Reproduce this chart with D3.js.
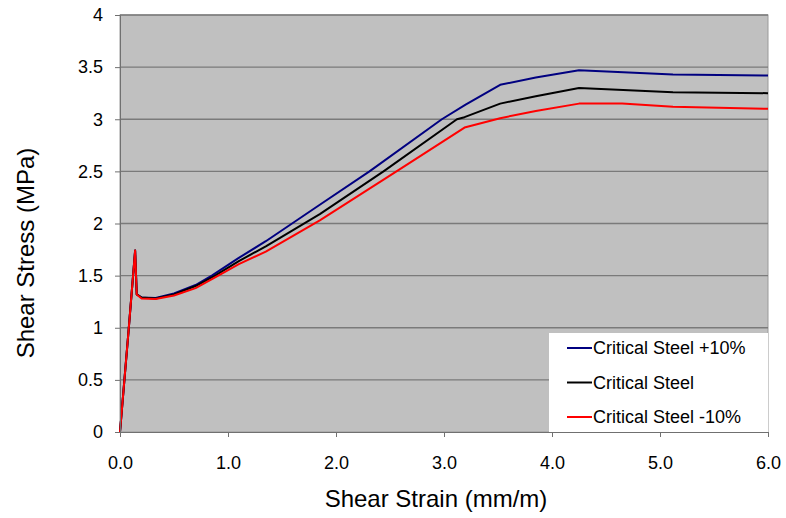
<!DOCTYPE html>
<html>
<head>
<meta charset="utf-8">
<script src="https://cdn.jsdelivr.net/npm/d3@7"></script>
<style>
  body { margin: 0; background: #fff; }
  text { font-family: "Liberation Sans", Arial, sans-serif; }
</style>
</head>
<body>
<svg id="chart"></svg>
<script>
const width = 786, height = 518
const margin = { top: 15, right: 18, bottom: 86, left: 120 }

// strain (mm/m) / stress (MPa) pairs
const plusStrain = [0, 0.08, 0.14, 0.155, 0.2, 0.33, 0.5, 0.7, 0.85, 1.1, 1.35, 1.85, 2.31, 2.98, 3.2, 3.52, 3.85, 4.25, 5.12, 6.0]
const plusStress = [0, 0.98, 1.74, 1.32, 1.29, 1.285, 1.33, 1.41, 1.5, 1.67, 1.83, 2.18, 2.5, 3.0, 3.14, 3.33, 3.4, 3.47, 3.43, 3.42]

const baseStrain = [0, 0.08, 0.14, 0.155, 0.2, 0.33, 0.5, 0.7, 0.88, 1.1, 1.35, 1.85, 2.44, 3.12, 3.19, 3.52, 3.85, 4.25, 5.12, 6.0]
const baseStress = [0, 0.98, 1.74, 1.32, 1.29, 1.28, 1.32, 1.4, 1.5, 1.64, 1.78, 2.09, 2.5, 3.0, 3.02, 3.15, 3.22, 3.3, 3.26, 3.25]

const minusStrain = [0, 0.08, 0.14, 0.155, 0.2, 0.33, 0.5, 0.7, 0.91, 1.1, 1.35, 1.85, 2.56, 3.19, 3.52, 3.85, 4.25, 4.65, 5.12, 6.0]
const minusStress = [0, 0.98, 1.74, 1.32, 1.28, 1.275, 1.31, 1.38, 1.5, 1.61, 1.73, 2.03, 2.5, 2.92, 3.01, 3.08, 3.15, 3.15, 3.12, 3.1]

const seriesNames = ["Critical Steel +10%", "Critical Steel", "Critical Steel -10%"]
const seriesColors = ["#000080", "#000000", "#ff0000"]

const xTicks = [0, 1, 2, 3, 4, 5, 6]
const yTicks = [0, 0.5, 1, 1.5, 2, 2.5, 3, 3.5, 4]

const series = [
    [plusStrain, plusStress],
    [baseStrain, baseStress],
    [minusStrain, minusStress],
].map(([xs, ys], i) => ({
    name: seriesNames[i],
    color: seriesColors[i],
    points: xs.map((x, j) => [x, ys[j]]),
}))

const svg = d3.select("svg#chart")
    .attr("width", width)
    .attr("height", height)

const xScale = d3.scaleLinear()
    .domain([0, 6])
    .range([margin.left, width - margin.right])

const yScale = d3.scaleLinear()
    .domain([0, 4])
    .range([height - margin.bottom, margin.top])

// plot area
svg.append("rect")
    .attr("x", margin.left)
    .attr("y", margin.top)
    .attr("width", xScale(6) - xScale(0))
    .attr("height", yScale(0) - yScale(4))
    .attr("fill", "#c0c0c0")
    .attr("stroke", "#9a9a9a")

// H grid lines
svg.append("g").classed("h-grid", true)
    .selectAll("line")
    .data(yTicks.slice(1))
    .enter()
    .append("line")
    .attr("x1", margin.left)
    .attr("x2", width - margin.right)
    .attr("y1", d => yScale(d))
    .attr("y2", d => yScale(d))
    .attr("stroke", "#7a7a7a")
    .attr("stroke-width", 1.3)

// lines
const line = d3.line()
    .x(d => xScale(d[0]))
    .y(d => yScale(d[1]))

svg.append("g").classed("series", true)
    .selectAll("path")
    .data(series)
    .enter()
    .append("path")
    .attr("d", d => line(d.points))
    .attr("fill", "none")
    .attr("stroke", d => d.color)
    .attr("stroke-width", 2)
    .attr("stroke-linejoin", "round")

// axes
const xAxis = svg.append("g").classed("x-axis", true)
    .attr("transform", `translate(0, ${yScale(0)})`)
    .call(d3.axisBottom(xScale).tickValues(xTicks).tickFormat(d3.format(".1f")).tickSize(5).tickPadding(19))
xAxis.select(".domain").attr("stroke", "#707070")
xAxis.selectAll(".tick line").attr("stroke", "#707070")
xAxis.selectAll("text").attr("font-size", 18).attr("fill", "#000")

const yAxis = svg.append("g").classed("y-axis", true)
    .attr("transform", `translate(${margin.left}, 0)`)
    .call(d3.axisLeft(yScale).tickValues(yTicks).tickFormat(d3.format("")).tickSize(5).tickPadding(12))
yAxis.select(".domain").attr("stroke", "#707070")
yAxis.selectAll(".tick line").attr("stroke", "#707070")
yAxis.selectAll("text").attr("font-size", 18).attr("fill", "#000")

// legend
const legend = svg.append("g").classed("legend", true)
    .attr("transform", "translate(549, 333)")

legend.append("rect")
    .attr("width", width - margin.right - 549)
    .attr("height", yScale(0) - 333)
    .attr("fill", "#fff")

const items = legend.selectAll("g.item")
    .data(series)
    .enter()
    .append("g").classed("item", true)
    .attr("transform", (d, i) => `translate(0, ${15 + i * 34.5})`)

items.append("line")
    .attr("x1", 18)
    .attr("x2", 43)
    .attr("stroke", d => d.color)
    .attr("stroke-width", 2)

items.append("text")
    .attr("x", 44)
    .attr("dy", "0.35em")
    .attr("font-size", 18)
    .text(d => d.name)

// titles
svg.append("text")
    .attr("x", 436)
    .attr("y", 507)
    .attr("text-anchor", "middle")
    .attr("font-size", 24)
    .text("Shear Strain (mm/m)")

svg.append("text")
    .attr("transform", "translate(26, 253) rotate(-90)")
    .attr("text-anchor", "middle")
    .attr("dy", "0.35em")
    .attr("font-size", 24)
    .text("Shear Stress (MPa)")
</script>
</body>
</html>
